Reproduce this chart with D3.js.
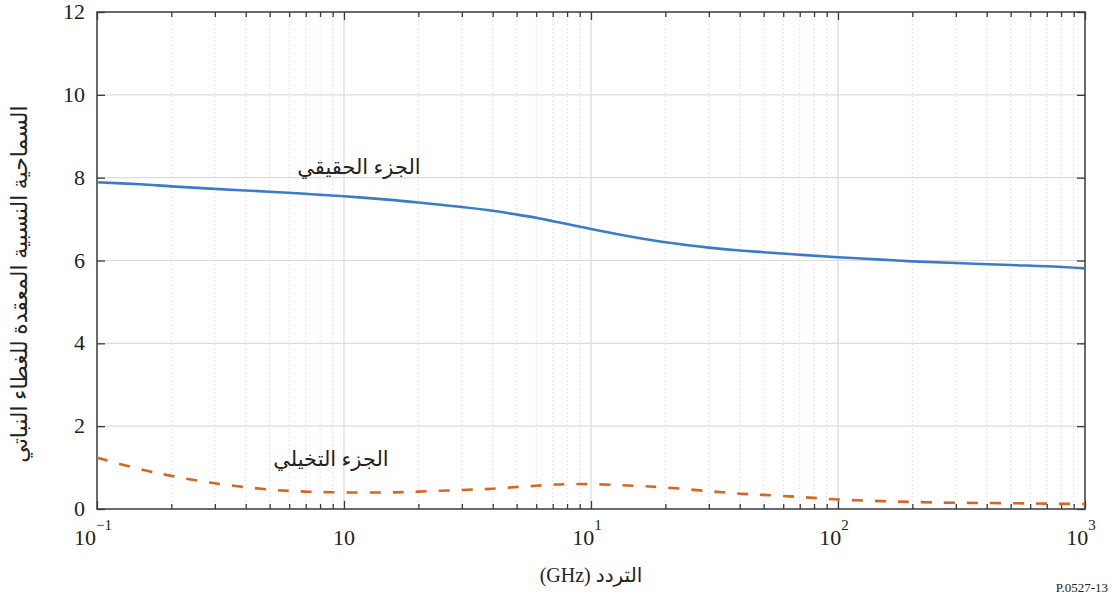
<!DOCTYPE html>
<html><head><meta charset="utf-8">
<script src="https://cdn.jsdelivr.net/npm/d3@7"></script>
<style>
html,body{margin:0;padding:0;background:#fff;}
svg{display:block;}
text{fill:#222;}
</style></head>
<body>
<svg id="chart" width="1111" height="594" font-family="'Liberation Serif','Times New Roman','DejaVu Serif',serif"></svg>
<script>
const freqs = [0.1,0.15,0.2,0.3,0.5,0.7,1,1.5,2,3,4,5,6,7,8,10,15,20,30,40,50,70,100,150,200,300,500,700,1000];
const realPart = [7.89,7.84,7.79,7.73,7.66,7.61,7.55,7.47,7.40,7.29,7.20,7.11,7.03,6.95,6.88,6.76,6.56,6.44,6.31,6.24,6.20,6.14,6.08,6.02,5.98,5.94,5.89,5.86,5.81];
const imagPart = [1.24,0.96,0.80,0.62,0.47,0.42,0.40,0.40,0.42,0.46,0.49,0.53,0.56,0.59,0.60,0.60,0.56,0.52,0.43,0.37,0.34,0.29,0.23,0.19,0.17,0.15,0.14,0.13,0.12];
const xTickValues = [0.1,1,10,100,1000];
const xTickBase = ["10","10","10","10","10"];
const xTickExp = ["−1","","1","2","3"];
const yTickValues = [0,2,4,6,8,10,12];
const realLabel = "الجزء الحقيقي";
const imagLabel = "الجزء التخيلي";
const yTitle = "السماحية النسبية المعقدة للغطاء النباتي";
const xTitle = "(GHz) التردد";
const figId = "P.0527-13";

(function(){
const svg = d3.select("#chart");
const arabicFont = "'Liberation Serif','DejaVu Sans',serif";
const L = 97, R = 1085, T = 12, B = 509;
const x = d3.scaleLog().domain([0.1,1000]).range([L,R]);
const y = d3.scaleLinear().domain([0,12]).range([B,T]);

const minor = [];
for (let d = -1; d < 3; d++) for (let k = 2; k <= 9; k++) minor.push(k*Math.pow(10,d));

const grid = svg.append("g");
grid.selectAll("line.minor").data(minor).join("line")
  .attr("x1", d=>x(d)).attr("x2", d=>x(d)).attr("y1", T).attr("y2", B)
  .attr("stroke", "#dcdcdc").attr("stroke-width", 1).attr("stroke-dasharray", "1.5,2.5");
grid.selectAll("line.vmaj").data(xTickValues.slice(1,-1)).join("line")
  .attr("x1", d=>x(d)).attr("x2", d=>x(d)).attr("y1", T).attr("y2", B)
  .attr("stroke", "#d8d8d8").attr("stroke-width", 1.2);
grid.selectAll("line.hmaj").data(yTickValues.slice(1,-1)).join("line")
  .attr("x1", L).attr("x2", R).attr("y1", d=>y(d)).attr("y2", d=>y(d))
  .attr("stroke", "#dcdcdc").attr("stroke-width", 1.2);

const axCol = "#3a3a3a";
const gB = svg.append("g").attr("transform", `translate(0,${B})`)
  .call(d3.axisTop(x).tickValues(xTickValues).tickSize(8).tickFormat(""));
const gBm = svg.append("g").attr("transform", `translate(0,${B})`)
  .call(d3.axisTop(x).tickValues(minor).tickSize(5).tickFormat(""));
const gT = svg.append("g").attr("transform", `translate(0,${T})`)
  .call(d3.axisBottom(x).tickValues(xTickValues).tickSize(8).tickFormat(""));
const gTm = svg.append("g").attr("transform", `translate(0,${T})`)
  .call(d3.axisBottom(x).tickValues(minor).tickSize(5).tickFormat(""));
const gL = svg.append("g").attr("transform", `translate(${L},0)`)
  .call(d3.axisRight(y).tickValues(yTickValues).tickSize(8).tickFormat(""));
const gR = svg.append("g").attr("transform", `translate(${R},0)`)
  .call(d3.axisLeft(y).tickValues(yTickValues).tickSize(8).tickFormat(""));
[gB,gBm,gT,gTm,gL,gR].forEach(g=>{
  g.select(".domain").remove();
  g.selectAll(".tick line").attr("stroke", axCol).attr("stroke-width", 1.3);
});
svg.append("rect").attr("x", L).attr("y", T).attr("width", R-L).attr("height", B-T)
  .attr("fill", "none").attr("stroke", axCol).attr("stroke-width", 1.5);

svg.append("g").selectAll("text").data(yTickValues).join("text")
  .attr("x", L-12).attr("y", d=>y(d)+7).attr("text-anchor","end")
  .attr("font-size", 22).text(d=>d);

const xl = svg.append("g").selectAll("text").data(xTickValues).join("text")
  .attr("x", (d,i)=> x(d) + (xTickExp[i] ? -4 : 0)).attr("y", 545)
  .attr("text-anchor","middle").attr("font-size", 22);
xl.append("tspan").text((d,i)=>xTickBase[i]);
xl.append("tspan").attr("dy", -15).attr("font-size", 15).text((d,i)=>xTickExp[i]);

const line = (vals)=> d3.line().x((d,i)=>x(freqs[i])).y(d=>y(d)).curve(d3.curveCatmullRom.alpha(0.5))(vals);
svg.append("path").attr("d", line(realPart)).attr("fill","none")
  .attr("stroke", "#3a7cc9").attr("stroke-width", 2.6);
svg.append("path").attr("d", line(imagPart)).attr("fill","none")
  .attr("stroke", "#d9651f").attr("stroke-width", 2.6).attr("stroke-dasharray","11,12");

svg.append("text").attr("x", 359).attr("y", 174).attr("text-anchor","middle")
  .attr("font-family", arabicFont).attr("font-size", 21).text(realLabel);
svg.append("text").attr("x", 331).attr("y", 466).attr("text-anchor","middle")
  .attr("font-family", arabicFont).attr("font-size", 21).text(imagLabel);

svg.append("text").attr("transform", "translate(27,284) rotate(-90)")
  .attr("text-anchor","middle").attr("font-family", arabicFont).attr("font-size", 22).text(yTitle);
svg.append("text").attr("x", 591).attr("y", 582).attr("text-anchor","middle")
  .attr("font-family", arabicFont).attr("font-size", 20).text(xTitle);
svg.append("text").attr("x", 1108).attr("y", 592).attr("text-anchor","end")
  .attr("font-size", 13).text(figId);
})();
</script>
</body></html>
